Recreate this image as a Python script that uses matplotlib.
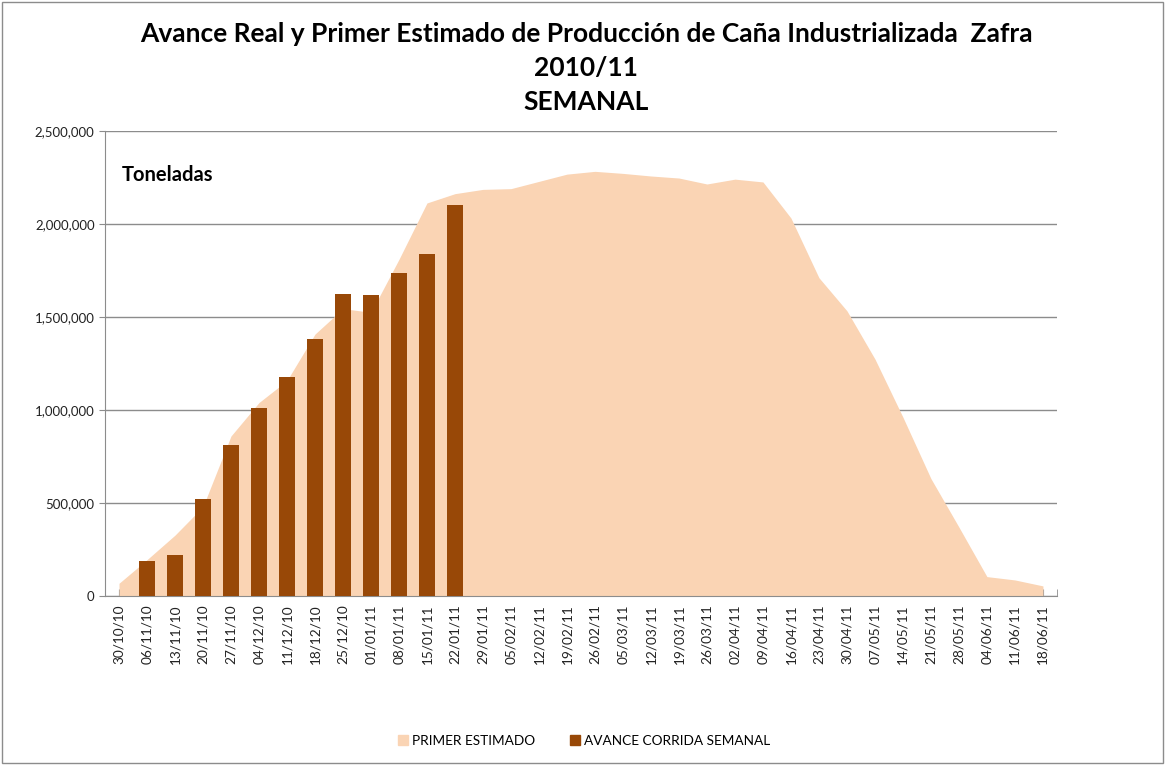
''' Avance real y primer estimado - zafra 2010/11 '''
from matplotlib import pyplot as plt
from matplotlib.patches import Patch, Rectangle
from matplotlib.ticker import FuncFormatter
import numpy as np

plt.rcParams['font.family'] = ['Lato', 'DejaVu Sans']

semanas = ['30/10/10', '06/11/10', '13/11/10', '20/11/10', '27/11/10', '04/12/10',
           '11/12/10', '18/12/10', '25/12/10', '01/01/11', '08/01/11', '15/01/11',
           '22/01/11', '29/01/11', '05/02/11', '12/02/11', '19/02/11', '26/02/11',
           '05/03/11', '12/03/11', '19/03/11', '26/03/11', '02/04/11', '09/04/11',
           '16/04/11', '23/04/11', '30/04/11', '07/05/11', '14/05/11', '21/05/11',
           '28/05/11', '04/06/11', '11/06/11', '18/06/11']
primer_estimado = [68000, 195000, 327000, 480000, 860000, 1040000,
                   1158000, 1408000, 1545000, 1525000, 1810000, 2113000,
                   2163000, 2186000, 2190000, 2229000, 2268000, 2283000,
                   2272000, 2258000, 2247000, 2215000, 2241000, 2226000,
                   2032000, 1711000, 1533000, 1274000, 961000, 631000,
                   370000, 104000, 86000, 54000]
avance_semanal = [0, 188000, 220000, 520000, 809000, 1009000,
                  1175000, 1381000, 1624000, 1617000, 1738000, 1838000,
                  2104000]

fig = plt.figure(figsize=(11.68, 7.66), dpi=100)
ax = fig.add_axes([0.0899, 0.222, 0.815, 0.607])

x = np.arange(len(semanas))
ax.fill_between(x, primer_estimado, color='#FAD4B4', linewidth=0, zorder=2)
xb = np.arange(len(avance_semanal))
ax.bar(xb, avance_semanal, width=0.56, color='#984807', zorder=3)

ax.set_xlim(-0.5, len(semanas) - 0.5)
ax.set_ylim(0, 2500000)
ax.set_yticks(np.arange(0, 2500001, 500000))
ax.yaxis.set_major_formatter(FuncFormatter(lambda v, p: f'{v:,.0f}'))
ax.yaxis.grid(True, color='#8c8c8c', linewidth=1)
ax.set_axisbelow(True)

ax.set_xticks(x)
ax.set_xticklabels(semanas, rotation=90, fontsize=9.8, color='#222222')
ax.set_xticks(np.arange(-0.5, len(semanas)), minor=True)
ax.tick_params(axis='x', which='both', direction='in', length=5, color='#8c8c8c', pad=6)
ax.tick_params(axis='y', direction='out', length=4, color='#8c8c8c', labelsize=9.5,
               labelcolor='#222222')

for s in ['top', 'right']:
    ax.spines[s].set_visible(False)
for s in ['left', 'bottom']:
    ax.spines[s].set_color('#8c8c8c')

ax.text(0.018, 0.905, 'Toneladas', transform=ax.transAxes, fontsize=14.5,
        fontweight='bold', va='center')

fig.text(0.502, 0.955, 'Avance Real y Primer Estimado de Producción de Caña Industrializada  Zafra',
         ha='center', va='center', fontsize=19, fontweight='bold')
fig.text(0.502, 0.911, '2010/11', ha='center', va='center', fontsize=19, fontweight='bold')
fig.text(0.502, 0.867, 'SEMANAL', ha='center', va='center', fontsize=19, fontweight='bold')

handles = [Patch(color='#FAD4B4', label='PRIMER ESTIMADO'),
           Patch(color='#984807', label='AVANCE CORRIDA SEMANAL')]
fig.legend(handles=handles, loc='center', bbox_to_anchor=(0.5, 0.033), ncol=2,
           frameon=False, fontsize=9.8, handlelength=0.7, handleheight=0.7,
           handletextpad=0.3, columnspacing=2.6)

fig.patches.append(Rectangle((0.002, 0.004), 0.994, 0.993, transform=fig.transFigure,
                             fill=False, edgecolor='#8c8c8c', linewidth=1))

plt.savefig('out.png')
plt.close()
